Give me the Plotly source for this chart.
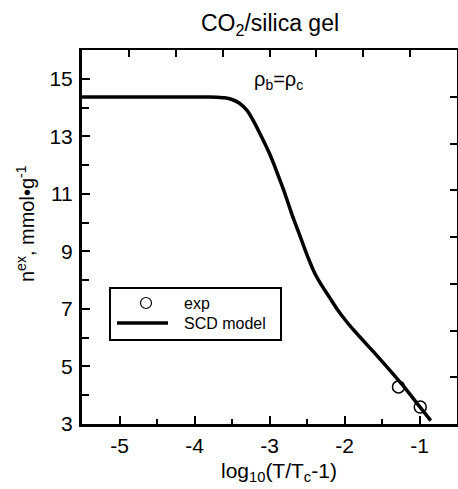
import plotly.graph_objects as go

# SCD model curve: excess adsorption vs reduced temperature
model_x = [-5.5, -4.5, -4.0, -3.8, -3.7, -3.6, -3.5, -3.4, -3.3, -3.2, -3.1, -3.0, -2.9,
           -2.8, -2.7, -2.6, -2.5, -2.4, -2.3, -2.2, -2.1, -2.0, -1.9, -1.8, -1.6, -1.4,
           -1.2, -1.0, -0.85]
model_y = [14.37, 14.37, 14.37, 14.37, 14.36, 14.34, 14.28, 14.15, 13.9, 13.47, 12.95, 12.4, 11.75,
           11.05, 10.28, 9.58, 8.88, 8.26, 7.8, 7.4, 7.0, 6.65, 6.33, 6.04, 5.47, 4.88,
           4.27, 3.61, 3.12]

# experimental points
exp_x = [-1.28, -0.99]
exp_y = [4.29, 3.59]

x_ticks = [-5, -4, -3, -2, -1]
x_tick_labels = ["-5", "-4", "-3", "-2", "-1"]
y_ticks = [3, 5, 7, 9, 11, 13, 15]
y_tick_labels = ["3", "5", "7", "9", "11", "13", "15"]

W, H = 458, 489
L, R, T, B = 82, 457, 50, 424
FONT = "Liberation Sans, Arial, sans-serif"


def px(x):
    return (x - L) / (R - L)


def py(y):
    return (B - y) / (B - T)


fig = go.Figure()
fig.add_trace(go.Scatter(x=model_x, y=model_y, mode="lines",
                         line=dict(color="black", width=3.5, shape="spline", smoothing=0.5),
                         showlegend=False))
fig.add_trace(go.Scatter(x=exp_x, y=exp_y, mode="markers",
                         marker=dict(symbol="circle-open", size=12,
                                     color="black", line=dict(width=1.5)),
                         showlegend=False))

axis_font = dict(family=FONT, size=21, color="black")
fig.update_layout(
    width=W, height=H,
    margin=dict(l=L, r=W - R, t=T, b=H - B),
    paper_bgcolor="white", plot_bgcolor="white",
    xaxis=dict(range=[-5.5, -0.5], tickvals=x_ticks, ticktext=x_tick_labels,
               ticks="inside", ticklen=8,
               tickwidth=1.5, tickcolor="black", showline=True, linewidth=3,
               linecolor="black", showgrid=False, zeroline=False, tickfont=axis_font,
               ticklabelstandoff=1,
               minor=dict(dtick=0.5, tick0=-5, ticks="inside", ticklen=5,
                          tickwidth=1.5, tickcolor="black", showgrid=False)),
    yaxis=dict(range=[3, 16], tickvals=y_ticks, ticktext=y_tick_labels,
               ticks="inside", ticklen=8,
               tickwidth=1.5, tickcolor="black", showline=True, linewidth=3,
               linecolor="black", showgrid=False, zeroline=False, tickfont=axis_font,
               ticklabelstandoff=2,
               minor=dict(dtick=1, tick0=3, ticks="inside", ticklen=7,
                          tickwidth=1.5, tickcolor="black", showgrid=False)),
    # frame axes on top and right with their own tick spacing
    xaxis2=dict(overlaying="x", side="top", range=[0, 8], dtick=1, ticks="inside",
                ticklen=7, tickwidth=1.5, tickcolor="black", showticklabels=False,
                showline=True, linewidth=2, linecolor="black", showgrid=False,
                zeroline=False),
    yaxis2=dict(overlaying="y", side="right", range=[0, 8], dtick=1, ticks="inside",
                ticklen=7, tickwidth=1.5, tickcolor="black", showticklabels=False,
                showline=True, linewidth=2, linecolor="black", showgrid=False,
                zeroline=False),
)
# dummy trace so the frame axes are drawn
fig.add_trace(go.Scatter(x=[None], y=[None], xaxis="x2", yaxis="y2", showlegend=False))


def label(text, x, y, size, xanchor="center", angle=0):
    return dict(text=text, x=px(x), y=py(y), xref="paper", yref="paper",
                xanchor=xanchor, yanchor="middle", showarrow=False, textangle=angle,
                font=dict(family=FONT, size=size, color="black"))


ann = [
    label("CO<sub>2</sub>/silica gel", 270, 25, 23),
    label("ρ<sub>b</sub>=ρ<sub>c</sub>", 278, 80, 20),
    label("log<sub>10</sub>(T/T<sub>c</sub>-1)", 279, 472, 21),
    label("n<sup>ex</sup>, mmol•g<sup>-1</sup>", 25, 224, 20, angle=-90),
    # legend entries
    label("exp", 182, 303, 16, xanchor="left"),
    label("SCD model", 182, 323, 16, xanchor="left"),
]
fig.update_layout(annotations=ann)

shapes = [
    dict(type="rect", xref="paper", yref="paper", x0=px(110), x1=px(281),
         y0=py(340), y1=py(288), line=dict(color="black", width=2),
         fillcolor="white", layer="below"),
    dict(type="line", xref="paper", yref="paper", x0=px(117), x1=px(168),
         y0=py(323), y1=py(323), line=dict(color="black", width=3.5)),
    dict(type="circle", xref="paper", yref="paper", xsizemode="pixel",
         ysizemode="pixel", xanchor=px(146), yanchor=py(303),
         x0=-5.5, x1=5.5, y0=-5.5, y1=5.5, line=dict(color="black", width=1.2)),
]
fig.update_layout(shapes=shapes)

fig.write_html("out.html")
